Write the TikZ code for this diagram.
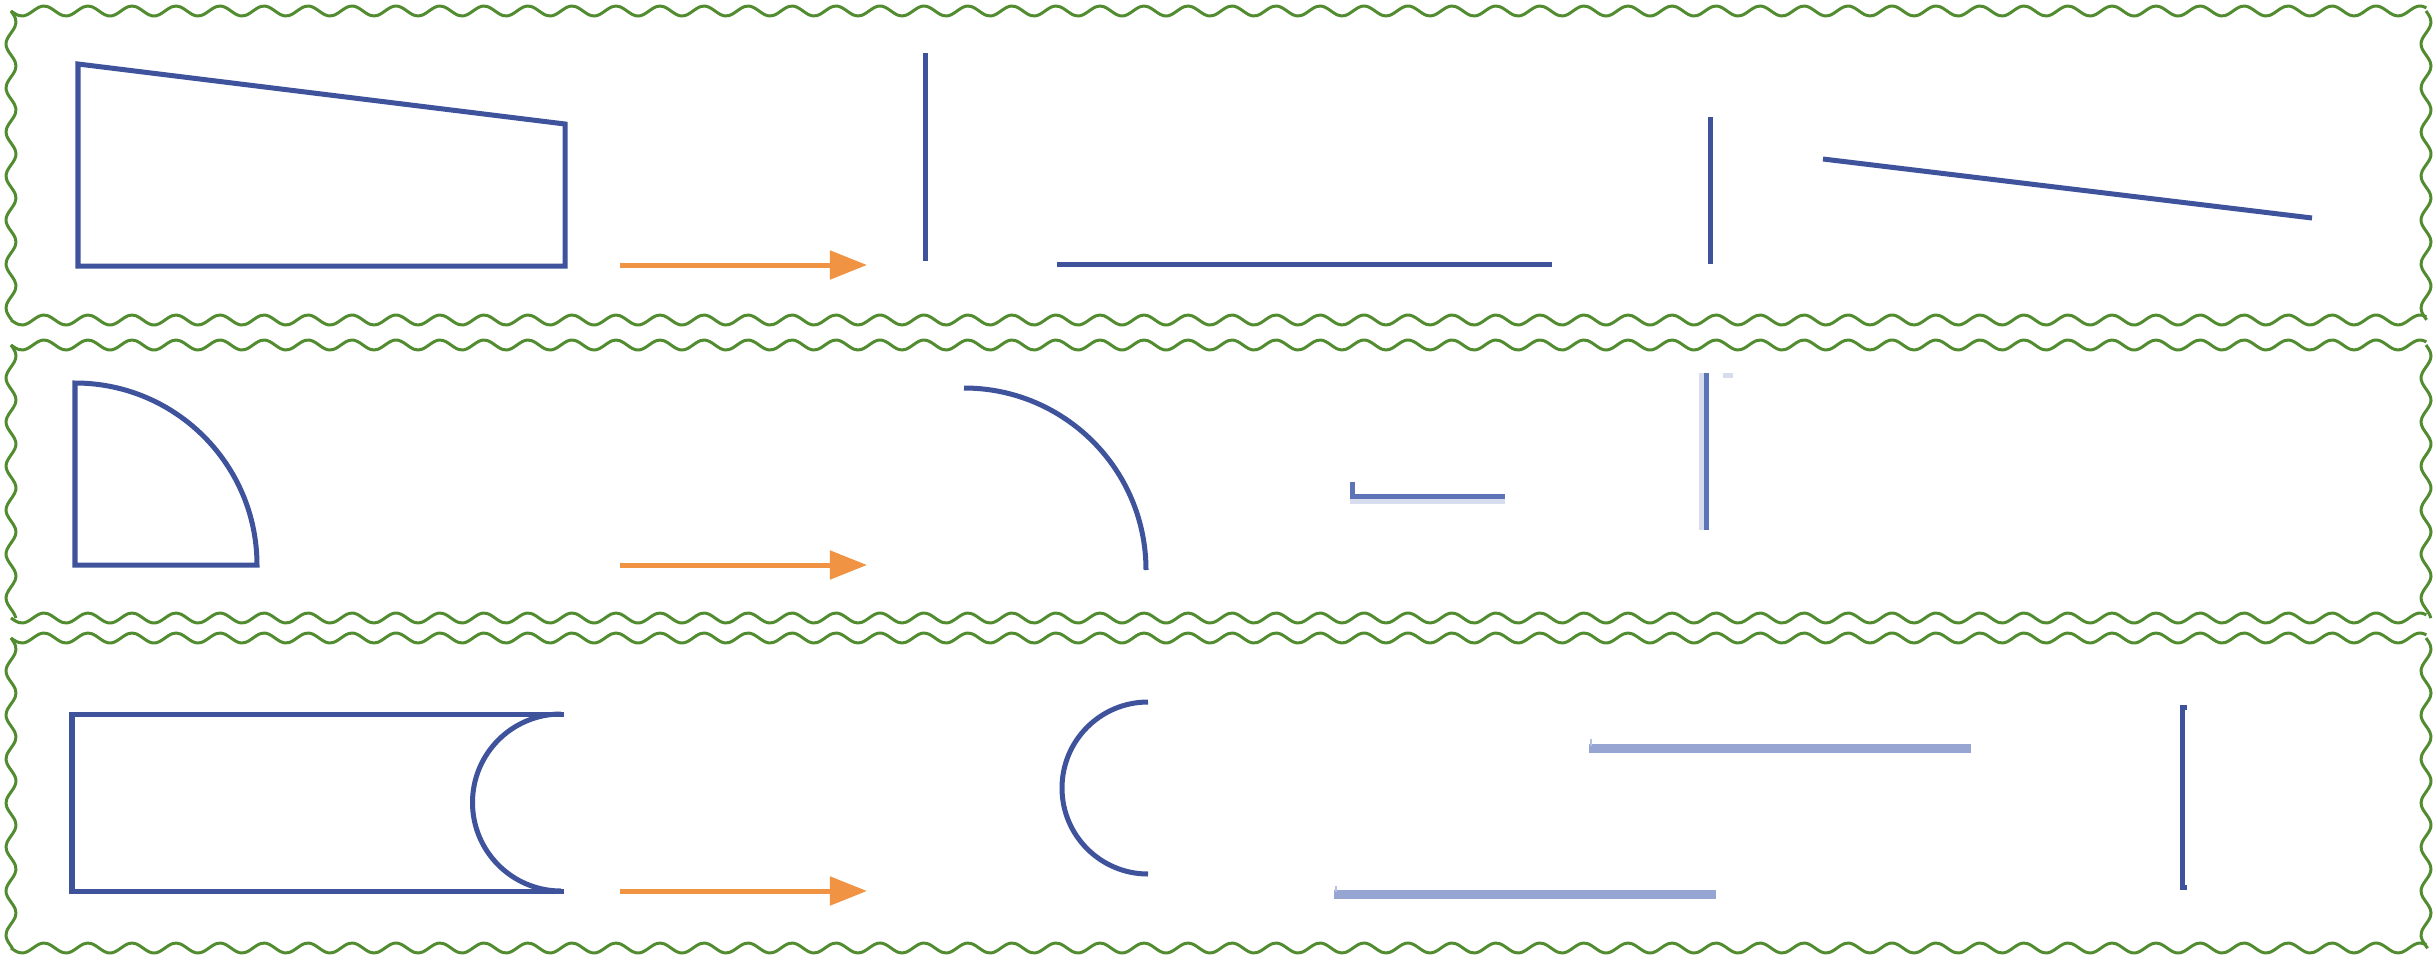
\documentclass[tikz,border=0pt]{standalone}
\usetikzlibrary{arrows.meta}

\definecolor{shapeblue}{RGB}{62,83,155}
\definecolor{midblue}{RGB}{92,115,183}
\definecolor{paleblue}{RGB}{150,165,210}
\definecolor{ghostblue}{RGB}{216,221,237}
\definecolor{flowcol}{RGB}{240,147,66}
\definecolor{framecol}{RGB}{82,140,48}

\begin{document}
\begin{tikzpicture}[x=0.01cm,y=-0.01cm,
    outline/.style={shapeblue, line width=0.05cm},
    midline/.style={midblue, line width=0.05cm},
    ghost/.style={ghostblue, line width=0.05cm},
    paleline/.style={paleblue, line width=0.09cm},
    flow/.style={flowcol, line width=0.05cm, -{Triangle[length=0.37cm,width=0.28cm]}},
    frame/.style={framecol, line width=0.03cm, line join=round}]

    \useasboundingbox (0,0) rectangle (2433,954);

    % The wavy frames (one wave every 44 px)
    \foreach \ytop/\ybot/\len in {11/320/44.1,345/618/39.0,638/948/44.3}
    {
        \draw[frame] plot[smooth, domain=0:344.9, samples=600] ({11+\x*7.003}, {\ytop+5*sin(mod(\x,6.28319) r)});
        \draw[frame] plot[smooth, domain=0:344.9, samples=600] ({11+\x*7.003}, {\ybot+5*sin(mod(\x,6.28319) r)});
        \draw[frame] plot[smooth, domain=0:\len, samples=80] ({11+5*sin(mod(\x,6.28319) r)}, {\ytop+\x*7.003});
        \draw[frame] plot[smooth, domain=0:\len, samples=80] ({2426+5*sin(mod(\x,6.28319) r)}, {\ytop+\x*7.003});
    }

    % The arrows
    \foreach \y in {265,565,891}
        \draw[flow] (620,\y) -- (867,\y);

    % Row 1: trapezoid and its sides
    \draw[outline] (78,64) -- (565,124) -- (565,266) -- (78,266) -- cycle;
    \draw[outline] (925,53) -- (925,261);
    \draw[outline] (1057,264) -- (1552,264);
    \draw[outline] (1710,117) -- (1710,264);
    \draw[outline] (1823,159) -- (2312,218);

    % Row 2: quarter disc and its sides
    \draw[outline] (75,383) arc (-90:0:182) -- (75,565) -- cycle;
    \draw[outline] (964,388) arc (-90:0:182);
    \draw[ghost] (1350,501) -- (1505,501);
    \draw[midline] (1352,482) -- (1352,496) -- (1505,496);
    \draw[ghost] (1701,373) -- (1701,530);
    \draw[midline] (1706,373) -- (1706,530);
    \fill[ghostblue] (1723,373) rectangle (1733,378);

    % Row 3: rectangle with a half disc cut out, and its sides
    \draw[outline] (564,714) -- (72,714) -- (72,891) -- (564,891);
    \draw[outline] (561,714) arc (-90:-270:88.5);
    \draw[outline] (1148,702) arc (-90:-270:86);
    \draw[paleline] (1589,748) -- (1971,748);
    \draw[paleblue!70, line width=0.02cm] (1591,739) -- (1591,746);
    \draw[paleline] (1334,894) -- (1716,894);
    \draw[paleblue!70, line width=0.02cm] (1336,886) -- (1336,892);
    \draw[outline] (2187,707) -- (2182,707) -- (2182,887) -- (2187,887);
\end{tikzpicture}
\end{document}
